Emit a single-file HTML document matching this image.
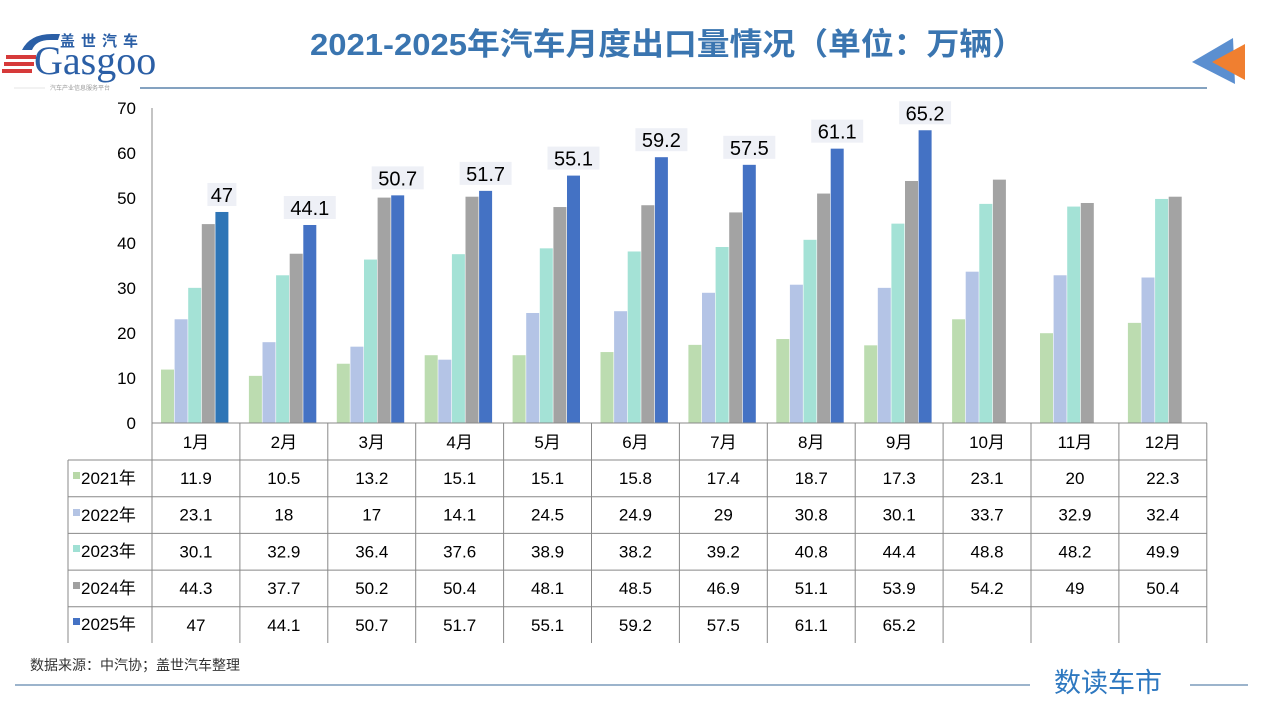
<!DOCTYPE html>
<html><head><meta charset="utf-8"><style>
body{margin:0;background:#fff;}
svg{display:block;font-family:"Liberation Sans","Noto Sans CJK SC",sans-serif;}
</style></head><body>
<svg width="1280" height="720" viewBox="0 0 1280 720" xmlns="http://www.w3.org/2000/svg">
<!-- logo -->
<g>
<path d="M22 50 Q30 34 52 34 L60 34 L58 40 L50 40 Q36 40 32 50 Z" fill="#2b5fa6"/>
<rect x="6" y="55" width="30" height="4" fill="#d63a3a"/>
<rect x="4" y="62" width="30" height="4" fill="#d63a3a"/>
<rect x="2" y="69" width="30" height="4" fill="#d63a3a"/>
<text x="34" y="74" font-family="Liberation Serif,serif" font-size="40" fill="#2b5fa6">Gasgoo</text>
<text x="60" y="46" font-size="15" font-weight="bold" fill="#2b5fa6" letter-spacing="6">盖世汽车</text>
<text x="50" y="90" font-size="6" fill="#999">汽车产业信息服务平台</text>
<line x1="14" y1="88" x2="45" y2="88" stroke="#ccc" stroke-width="0.6"/>
</g>
<text x="310" y="55" textLength="715" lengthAdjust="spacingAndGlyphs" font-size="31" font-weight="bold" fill="#3a75b0">2021-2025年汽车月度出口量情况（单位：万辆）</text>
<line x1="140" y1="88" x2="1207" y2="88" stroke="#3a6a9a" stroke-width="1.2"/>
<polygon points="1192,62 1233,38 1235,84" fill="#5b8fd0"/>
<polygon points="1212,62 1245,44 1245,80" fill="#f07f30"/>
<!-- y axis -->
<line x1="152" y1="108" x2="152" y2="423" stroke="#888"/>
<g font-size="17" fill="#000" text-anchor="end">
<text x="136" y="429">0</text><text x="136" y="384">10</text><text x="136" y="339">20</text><text x="136" y="294">30</text><text x="136" y="249">40</text><text x="136" y="204">50</text><text x="136" y="159">60</text><text x="136" y="114">70</text>
</g>
<g id="bars"></g>
<g id="table" stroke="#888" stroke-width="1" fill="none"></g>
<g id="ttext" font-size="17" fill="#000" text-anchor="middle"></g>
<g font-size="17" fill="#000">
<rect x="73" y="472" width="7" height="7" fill="#b8d8a8"/><text x="81" y="484">2021年</text>
<rect x="73" y="509" width="7" height="7" fill="#b4c4e4"/><text x="81" y="521">2022年</text>
<rect x="73" y="545" width="7" height="7" fill="#a0e0d4"/><text x="81" y="557">2023年</text>
<rect x="73" y="582" width="7" height="7" fill="#a0a0a0"/><text x="81" y="594">2024年</text>
<rect x="73" y="618" width="7" height="7" fill="#4472c4"/><text x="81" y="630">2025年</text>
</g>
<text x="30" y="670" font-size="14" fill="#333">数据来源：中汽协；盖世汽车整理</text>
<line x1="15" y1="685" x2="1030" y2="685" stroke="#3a6a9a" stroke-width="1"/>
<line x1="1190" y1="685" x2="1248" y2="685" stroke="#3a6a9a" stroke-width="1"/>
<text x="1108" y="692" text-anchor="middle" font-size="27" fill="#2e78c0">数读车市</text>
<script>
var d=[[11.9,10.5,13.2,15.1,15.1,15.8,17.4,18.7,17.3,23.1,20,22.3],
[23.1,18,17,14.1,24.5,24.9,29,30.8,30.1,33.7,32.9,32.4],
[30.1,32.9,36.4,37.6,38.9,38.2,39.2,40.8,44.4,48.8,48.2,49.9],
[44.3,37.7,50.2,50.4,48.1,48.5,46.9,51.1,53.9,54.2,49,50.4],
[47,44.1,50.7,51.7,55.1,59.2,57.5,61.1,65.2,null,null,null]];
var col=["#bcdcb0","#b4c4e6","#a4e2d6","#a3a3a3","#4472c4"];
var ns="http://www.w3.org/2000/svg",b=document.getElementById("bars"),t=document.getElementById("table"),tt=document.getElementById("ttext");
function el(p,tag,a,txt){var e=document.createElementNS(ns,tag);for(var k in a)e.setAttribute(k,a[k]);if(txt!=null)e.textContent=txt;p.appendChild(e);return e;}
var cw=87.9,y0=423,sc=4.49,bw=13.6;
for(var m=0;m<12;m++){var x0=152+m*cw+9;
for(var s=0;s<5;s++){var v=d[s][m];if(v==null)continue;var h=v*sc;
el(b,"rect",{x:x0+s*bw,y:y0-h,width:bw-0.6,height:h,fill:(s==4&&m==0)?"#2e75b6":col[s]});
if(s==4){var cx=x0+4*bw+6.5,str=String(v),w=str.length*11.5+6;
el(b,"rect",{x:cx-w/2,y:y0-h-29,width:w,height:23,fill:"#eef0f6"});
el(b,"text",{x:cx,y:y0-h-10,"font-size":20,"text-anchor":"middle",fill:"#000"},str);}
}
el(tt,"text",{x:152+m*cw+cw/2,y:448},(m+1)+"月");
for(var s=0;s<5;s++){if(d[s][m]!=null)el(tt,"text",{x:152+m*cw+cw/2,y:484+s*36.7},String(d[s][m]));}
}
el(t,"line",{x1:152,y1:423,x2:1207,y2:423});
for(var r=0;r<5;r++){el(t,"line",{x1:68,y1:460+r*36.7,x2:1207,y2:460+r*36.7});}
el(t,"line",{x1:68,y1:460,x2:68,y2:643});
for(var k=0;k<=12;k++){el(t,"line",{x1:152+k*cw,y1:423,x2:152+k*cw,y2:643});}
</script>
</svg>
</body></html>
